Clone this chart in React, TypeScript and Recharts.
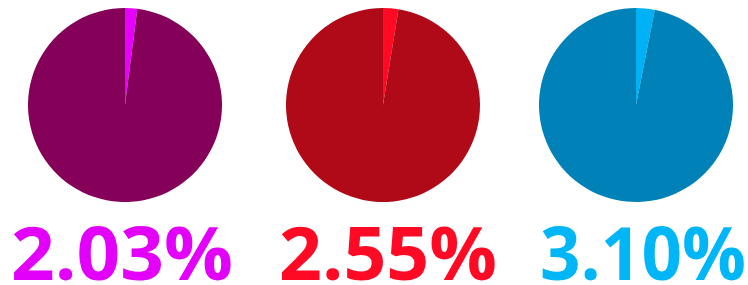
import { Cell, Pie, PieChart } from "recharts";

const labels = ["2.03%", "2.55%", "3.10%"];
const shares = [2.03, 2.55, 3.1];
const brightColors = ["#e600ff", "#ff0a22", "#00b2f5"];
const darkColors = ["#850058", "#b00a18", "#0081b7"];
const textColors = ["#e200fb", "#ff0a25", "#00b6f7"];

const pieCenters = [125, 383, 636];
const textBoxes = [
  { x: 11, w: 222 },
  { x: 279, w: 218 },
  { x: 540, w: 206 }
];

export default function App() {
  return (
    <div style={{ position: "absolute", left: 0, top: 0, width: 748, height: 285, background: "#fff" }}>
      <PieChart width={748} height={285} margin={{ top: 0, right: 0, bottom: 0, left: 0 }}>
        {shares.map((share, i) => (
          <Pie
            key={labels[i]}
            data={[
              { name: "share", value: share },
              { name: "rest", value: 100 - share }
            ]}
            dataKey="value"
            cx={pieCenters[i]}
            cy={105}
            outerRadius={97}
            startAngle={90}
            endAngle={-270}
            stroke="none"
            isAnimationActive={false}
          >
            <Cell fill={brightColors[i]} />
            <Cell fill={darkColors[i]} />
          </Pie>
        ))}
      </PieChart>
      <svg width={748} height={285} style={{ position: "absolute", left: 0, top: 0 }}>
        {labels.map((label, i) => (
          <text
            key={label}
            x={textBoxes[i].x}
            y={280}
            fill={textColors[i]}
            fontFamily="'Open Sans', sans-serif"
            fontWeight={700}
            fontSize={74}
            textLength={textBoxes[i].w}
            lengthAdjust="spacingAndGlyphs"
          >
            {label}
          </text>
        ))}
      </svg>
    </div>
  );
}
